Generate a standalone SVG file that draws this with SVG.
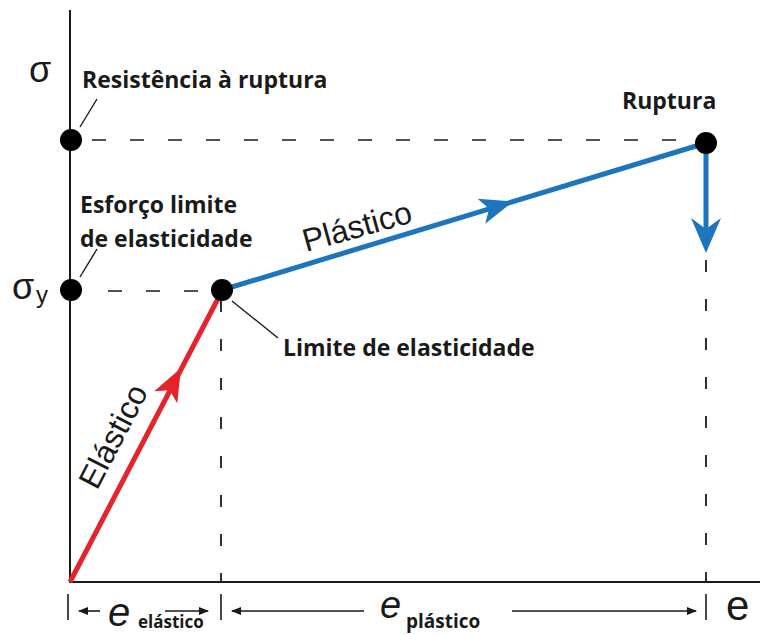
<svg xmlns="http://www.w3.org/2000/svg" width="760" height="635" viewBox="0 0 760 635">
<style>
.axis{stroke:#1a1a1a;stroke-width:2;fill:none}
.dash{stroke:#1a1a1a;stroke-width:1.6;fill:none;stroke-dasharray:14 24}
.vdash{stroke:#1a1a1a;stroke-width:1.8;fill:none;stroke-dasharray:12 27}
.lead{stroke:#1a1a1a;stroke-width:1.4;fill:none}
.lbl{font-family:"Open Sans","Liberation Sans",sans-serif;font-weight:bold;font-size:23px;fill:#1a1a1a}
.sub{font-family:"Open Sans","Liberation Sans",sans-serif;font-weight:bold;fill:#1a1a1a}
.sym{font-family:"Liberation Sans",Arial,sans-serif;fill:#1a1a1a}
.curve{font-family:"Liberation Sans",Arial,sans-serif;font-size:32px;fill:#1a1a1a}
.dot{fill:#000}
.red{stroke:#e4232b;stroke-width:5;fill:none}
.blue{stroke:#1e75bd;stroke-width:5;fill:none}
.tick{stroke:#1a1a1a;stroke-width:1.6;fill:none}
</style>
<defs>
<marker id="ah" viewBox="0 0 10 10" refX="9" refY="5" markerWidth="10" markerHeight="10" markerUnits="userSpaceOnUse" orient="auto"><path d="M0,1 L10,5 L0,9 Z" fill="#1a1a1a"/></marker>
</defs>
<rect width="760" height="635" fill="#fff"/>
<g id="axes">
<line class="axis" x1="70" y1="10" x2="70" y2="582"/>
<line class="axis" x1="69" y1="582" x2="760" y2="582"/>
<text class="sym" x="29" y="82" font-size="36">σ</text>
<text class="sym" x="12" y="299" font-size="36">σ</text>
<text class="sym" x="36" y="303" font-size="24">y</text>
<text class="sym" x="726" y="620" font-size="42">e</text>
</g>
<g id="connectors">
<line class="dash" x1="92" y1="140" x2="696" y2="140"/>
<line class="dash" x1="108" y1="291" x2="210" y2="291"/>
<line class="vdash" x1="221" y1="300" x2="221" y2="582"/>
<line class="vdash" x1="706" y1="260" x2="706" y2="582"/>
<line class="red" x1="70" y1="582" x2="222" y2="291"/>
<path d="M0,0 L-33,-13 L-25,0 L-33,13 Z" fill="#e4232b" transform="translate(181,368) rotate(-62.5)"/>
<line class="blue" x1="222" y1="290" x2="706" y2="143"/>
<path d="M0,0 L-33,-13 L-25,0 L-33,13 Z" fill="#1e75bd" transform="translate(513,201.6) rotate(-16.9)"/>
<line class="blue" x1="706" y1="143" x2="706" y2="235"/>
<path d="M0,0 L-35,-15 L-24,0 L-35,15 Z" fill="#1e75bd" transform="translate(706,253) rotate(90)"/>
<line class="lead" x1="80" y1="127" x2="97" y2="99"/>
<line class="lead" x1="80" y1="277" x2="97" y2="249"/>
<line class="lead" x1="232" y1="301" x2="278" y2="338"/>
<line class="tick" x1="68" y1="594" x2="68" y2="620"/>
<line class="tick" x1="221" y1="594" x2="221" y2="620"/>
<line class="tick" x1="706" y1="594" x2="706" y2="620"/>
<line class="tick" x1="100" y1="611" x2="79" y2="611" marker-end="url(#ah)"/>
<line class="tick" x1="165" y1="611" x2="208" y2="611" marker-end="url(#ah)"/>
<line class="tick" x1="364" y1="611" x2="232" y2="611" marker-end="url(#ah)"/>
<line class="tick" x1="512" y1="611" x2="696" y2="611" marker-end="url(#ah)"/>
</g>
<g id="n-ruptura-strength">
<circle class="dot" cx="71" cy="140" r="11"/>
<text class="lbl" x="82" y="88">Resistência à ruptura</text>
</g>
<g id="n-yield-stress">
<circle class="dot" cx="71" cy="290" r="11"/>
<text class="lbl" x="80" y="213">Esforço limite</text>
<text class="lbl" x="80" y="247">de elasticidade</text>
</g>
<g id="n-elastic-limit">
<circle class="dot" cx="222" cy="290" r="11"/>
<text class="lbl" x="283" y="356">Limite de elasticidade</text>
</g>
<g id="n-rupture">
<circle class="dot" cx="706" cy="143" r="11"/>
<text class="lbl" x="622" y="109">Ruptura</text>
</g>
<g id="curve-labels">
<text class="curve" transform="translate(306,252) rotate(-15.5)">Plástico</text>
<text class="curve" transform="translate(97,491) rotate(-62.5)">Elástico</text>
</g>
<g id="strain-labels">
<text class="sym" x="108" y="626" font-size="40" font-style="italic">e</text>
<text class="sub" x="138" y="628" font-size="17">elástico</text>
<text class="sym" x="380" y="618" font-size="38" font-style="italic">e</text>
<text class="sub" x="406" y="628" font-size="19">plástico</text>
</g>
</svg>
